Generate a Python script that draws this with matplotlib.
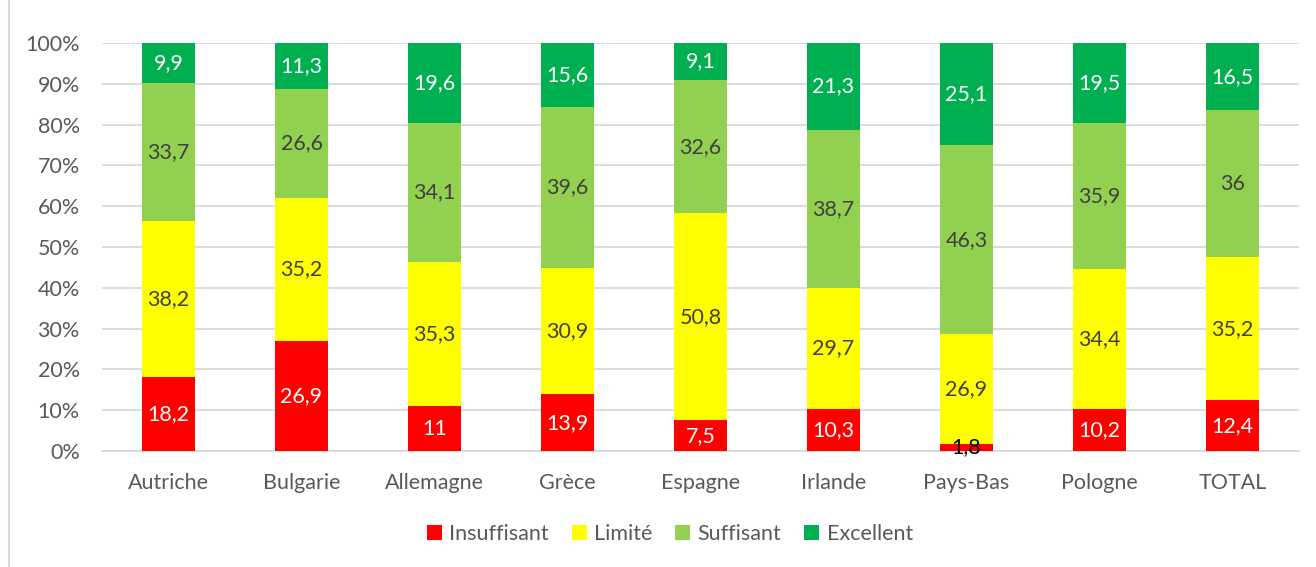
import numpy as np
import matplotlib.pyplot as plt
from matplotlib.lines import Line2D
from matplotlib.patches import Patch

plt.rcParams["font.family"] = ["Lato", "DejaVu Sans"]

countries = ["Autriche", "Bulgarie", "Allemagne", "Grèce", "Espagne",
             "Irlande", "Pays-Bas", "Pologne", "TOTAL"]
insuffisant = [18.2, 26.9, 11, 13.9, 7.5, 10.3, 1.8, 10.2, 12.4]
limite = [38.2, 35.2, 35.3, 30.9, 50.8, 29.7, 26.9, 34.4, 35.2]
suffisant = [33.7, 26.6, 34.1, 39.6, 32.6, 38.7, 46.3, 35.9, 36]
excellent = [9.9, 11.3, 19.6, 15.6, 9.1, 21.3, 25.1, 19.5, 16.5]

series = [
    ("Insuffisant", insuffisant, "#FF0000", "white"),
    ("Limité", limite, "#FFFF00", "#404040"),
    ("Suffisant", suffisant, "#92D050", "#404040"),
    ("Excellent", excellent, "#00B050", "white"),
]

FS = 15.5

data = np.array([s[1] for s in series], dtype=float)
totals = data.sum(axis=0)
shares = data / totals  # 100% stacked, like Excel

fig = plt.figure(figsize=(13.16, 5.67), dpi=100)
ax = fig.add_axes([102 / 1316, 1 - 451 / 567, 1197 / 1316, 408 / 567])

x = np.arange(len(countries))
bottom = np.zeros(len(countries))
for (name, vals, color, tcolor), share in zip(series, shares):
    ax.bar(x, share, width=0.4, bottom=bottom, color=color, zorder=3)
    for i, v in enumerate(vals):
        c = tcolor
        if share[i] < 0.03:
            c = "black"
        label = f"{v:g}".replace(".", ",")
        ax.text(x[i], bottom[i] + share[i] / 2, label, ha="center", va="center",
                fontsize=FS, color=c, zorder=4)
    bottom += share

ax.set_xlim(-0.5, len(countries) - 0.5)
ax.set_ylim(0, 1)
ax.set_yticks(np.arange(0, 1.01, 0.1))
ax.set_yticklabels([f"{int(round(t * 100))}%" for t in np.arange(0, 1.01, 0.1)])
ax.set_xticks(x)
ax.set_xticklabels(countries)
ax.tick_params(axis="both", length=0, labelsize=FS, colors="#595959")
ax.tick_params(axis="x", pad=16)
ax.tick_params(axis="y", pad=16)
ax.grid(axis="y", color="#D9D9D9", linewidth=1.3, zorder=0)
for side in ["top", "right", "left"]:
    ax.spines[side].set_visible(False)
ax.spines["bottom"].set_color("#D9D9D9")
ax.spines["bottom"].set_linewidth(1.3)
ax.set_axisbelow(True)

handles = [Patch(facecolor=s[2], edgecolor="none") for s in series]
fig.legend(handles, [s[0] for s in series], loc="center",
           bbox_to_anchor=(0.509, 1 - 534 / 567), ncol=4, frameon=False,
           fontsize=FS, labelcolor="#595959", handlelength=0.7,
           handleheight=0.7, handletextpad=0.35, columnspacing=1.05)

# chart frame, left edge visible
fig.add_artist(Line2D([8.5 / 1316, 8.5 / 1316], [0, 1], color="#D9D9D9",
                      linewidth=1.5, transform=fig.transFigure))

fig.savefig("out.png", dpi=100)
